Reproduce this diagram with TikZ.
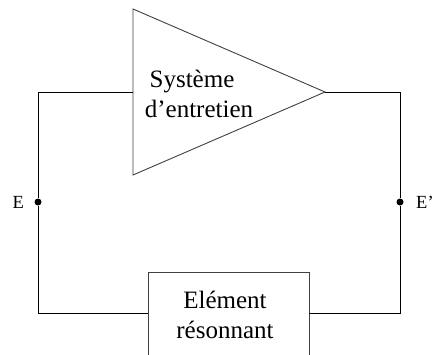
\documentclass[tikz,border=0pt]{standalone}
\usepackage{fontspec}
\setmainfont{Liberation Serif}
\begin{document}
\begin{tikzpicture}[x=1pt,y=-1pt,
  wire/.style={line width=0.8pt,black},
  blk/.style={line width=0.9pt,black!75},
  big/.style={font=\fontsize{25}{29}\selectfont,inner sep=0pt,anchor=base},
  lbl/.style={font=\fontsize{18.5}{21}\selectfont,inner sep=0pt,anchor=base west},
  dotn/.style={circle,fill=black,inner sep=0pt,minimum size=7pt}]
\useasboundingbox (0,0) rectangle (433,354);
\clip (0,0) rectangle (433,354);
% triangle
\coordinate (tt) at (133,9);
\coordinate (tb) at (133,175);
\coordinate (tl) at (133,92);
\coordinate (apex) at (325,92);
\draw[blk,line join=miter] (tt) -- (apex) -- (tb) -- cycle;
% corners
\coordinate (ctl) at (38,92);
\coordinate (ctr) at (400,92);
\coordinate (cbl) at (38,313);
\coordinate (cbr) at (400,313);
% box
\coordinate (bl) at (148,313);
\coordinate (br) at (309,313);
\draw[blk] (148,372) -- (148,272) -- (309,272) -- (309,372);
% dots
\node[dotn] (E) at (38,202) {};
\node[dotn] (Ep) at (400,202) {};
% wires
\draw[wire] (tl) -- (ctl) -- (E) -- (cbl) -- (bl);
\draw[wire] (apex) -- (ctr) -- (Ep) -- (cbr) -- (br);
% texts
\node[big] (s1) at (192,87) {Système};
\node[big] (s2) at (199,117) {d’entretien};
\node[big] (r1) at (225,308) {Elément};
\node[big] (r2) at (225,338) {résonnant};
\node[lbl] (lE) at (12.5,208) {E};
\node[lbl] (lEp) at (416,208) {E’};
\end{tikzpicture}
\end{document}
